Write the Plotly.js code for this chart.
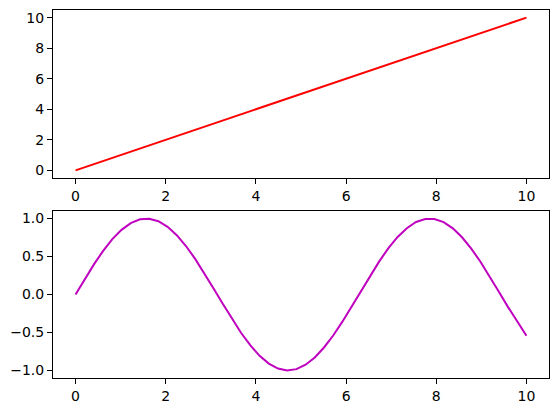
<!DOCTYPE html>
<html>
<head>
<meta charset="utf-8">
<script src="https://cdn.plot.ly/plotly-3.0.1.min.js"></script>
<style>html,body{margin:0;padding:0;background:#fff;}</style>
</head>
<body>
<div id="chart" style="width:559px;height:413px;"></div>
<script>
// Top panel: straight line
const lineX = [0, 10];
const lineY = [0, 10];

// Bottom panel: sampled wave
const waveX = [0, 0.204, 0.408, 0.612, 0.816, 1.020, 1.224, 1.429, 1.633, 1.837,
  2.041, 2.245, 2.449, 2.653, 2.857, 3.061, 3.265, 3.469, 3.673, 3.878,
  4.082, 4.286, 4.490, 4.694, 4.898, 5.102, 5.306, 5.510, 5.714, 5.918,
  6.122, 6.327, 6.531, 6.735, 6.939, 7.143, 7.347, 7.551, 7.755, 7.959,
  8.163, 8.367, 8.571, 8.776, 8.980, 9.184, 9.388, 9.592, 9.796, 10];
const waveY = [0, 0.203, 0.397, 0.575, 0.729, 0.852, 0.940, 0.990, 0.998, 0.965,
  0.891, 0.782, 0.639, 0.469, 0.282, 0.080, -0.123, -0.322, -0.507, -0.671,
  -0.808, -0.910, -0.975, -1.000, -0.983, -0.925, -0.829, -0.698, -0.540, -0.358,
  -0.160, 0.043, 0.245, 0.436, 0.610, 0.758, 0.874, 0.955, 0.995, 0.994,
  0.953, 0.871, 0.754, 0.605, 0.431, 0.239, 0.037, -0.166, -0.363, -0.544];

const font = {family: 'DejaVu Sans', size: 14, color: '#000'};
const axBase = {
  showline: true, mirror: true, linecolor: '#000', linewidth: 1,
  ticks: 'outside', ticklen: 5, tickwidth: 1, tickcolor: '#000',
  showgrid: false, zeroline: false, tickfont: font
};

const traces = [
  {x: lineX, y: lineY, type: 'scatter', mode: 'lines', line: {color: '#ff0000', width: 2}, xaxis: 'x', yaxis: 'y'},
  {x: waveX, y: waveY, type: 'scatter', mode: 'lines', line: {color: '#bf00bf', width: 2}, xaxis: 'x2', yaxis: 'y2'}
];

const layout = {
  width: 559, height: 413,
  margin: {l: 53, r: 10, t: 10, b: 35},
  showlegend: false,
  paper_bgcolor: '#fff', plot_bgcolor: '#fff',
  font: font,
  xaxis: Object.assign({}, axBase, {domain: [0, 1], anchor: 'y', range: [-0.5, 10.5], dtick: 2, tick0: 0}),
  yaxis: Object.assign({}, axBase, {domain: [0.5435, 1], anchor: 'x', range: [-0.5, 10.5], dtick: 2, tick0: 0}),
  xaxis2: Object.assign({}, axBase, {domain: [0, 1], anchor: 'y2', range: [-0.5, 10.5], dtick: 2, tick0: 0}),
  yaxis2: Object.assign({}, axBase, {domain: [0, 0.4538], anchor: 'x2', range: [-1.1, 1.1], dtick: 0.5, tick0: 0, tickformat: '.1f'})
};

Plotly.newPlot('chart', traces, layout, {staticPlot: true, displayModeBar: false});
</script>
</body>
</html>
